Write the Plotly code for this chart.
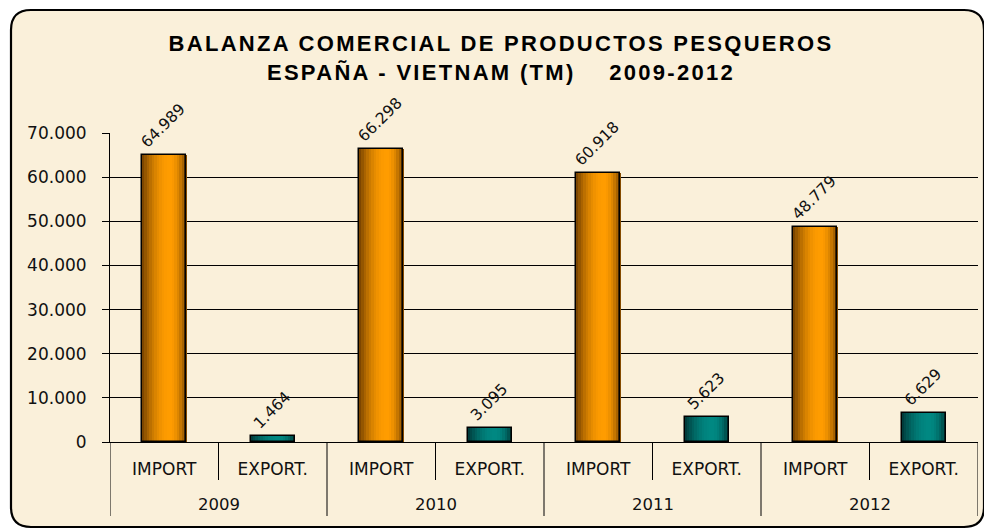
import plotly.graph_objects as go

# ---- data ----
years = ["2009", "2010", "2011", "2012"]
flows = ["IMPORT", "EXPORT."]
import_tm = [64989, 66298, 60918, 48779]
export_tm = [1464, 3095, 5623, 6629]
y_ticks = [0, 10000, 20000, 30000, 40000, 50000, 60000, 70000]

# build flat category arrays
labels, vals, kinds = [], [], []
for i, yr in enumerate(years):
    for f, v in zip(flows, [import_tm[i], export_tm[i]]):
        labels.append(f)
        vals.append(v)
        kinds.append(f)
pos = list(range(len(vals)))

FONT = "DejaVu Sans"
BG = "#FAF0DA"

ORANGE_DARK, ORANGE_BRIGHT = (112, 62, 0), (255, 156, 0)
TEAL_DARK, TEAL_BRIGHT = (0, 52, 52), (0, 136, 130)


def mix(a, b, t):
    return "rgb(%d,%d,%d)" % tuple(round(a[j] + (b[j] - a[j]) * t) for j in range(3))


def shade(t):
    peak = 0.62
    d = (peak - t) / peak if t < peak else (t - peak) / (1 - peak)
    return max(0.0, 1 - d ** 2)


fig = go.Figure()
W = 0.41
N = 18
for k in range(N):
    s = shade((k + 0.5) / N)
    colors = [mix(ORANGE_DARK, ORANGE_BRIGHT, s) if kd == "IMPORT" else mix(TEAL_DARK, TEAL_BRIGHT, s)
              for kd in kinds]
    fig.add_trace(go.Bar(
        x=pos, y=vals,
        width=W / N * 1.03, offset=-W / 2 + k * W / N,
        marker=dict(color=colors, line=dict(width=0)),
        hoverinfo="skip", showlegend=False,
    ))

# outline + value labels
fig.add_trace(go.Bar(
    x=pos, y=vals, width=W, offset=-W / 2,
    marker=dict(color="rgba(0,0,0,0)", line=dict(color="#000000", width=1.5)),
    texttemplate="%{y:,.0f}", textposition="outside", textangle=-45,
    textfont=dict(family=FONT, size=15.5, color="#111111"),
    cliponaxis=False, constraintext="none", showlegend=False,
))

# geometry helpers (paper coords of the plot area)
PW, PH = 868.0, 309.0
def px(xpix):
    return (xpix - 110) / PW
def py(ypix):
    return (442 - ypix) / PH

L, R, T, B, rad = 11, 984, 10, 527, 20
rx, ry = rad / PW, rad / PH
path = (f"M {px(L)+rx} {py(T)} L {px(R)-rx} {py(T)} Q {px(R)} {py(T)} {px(R)} {py(T)-ry} "
        f"L {px(R)} {py(B)+ry} Q {px(R)} {py(B)} {px(R)-rx} {py(B)} "
        f"L {px(L)+rx} {py(B)} Q {px(L)} {py(B)} {px(L)} {py(B)+ry} "
        f"L {px(L)} {py(T)-ry} Q {px(L)} {py(T)} {px(L)+rx} {py(T)} Z")
shapes = [dict(type="path", path=path, xref="paper", yref="paper",
               fillcolor=BG, line=dict(color="#000000", width=2.2), layer="below")]

# category boundary lines: short between flows, long between years
for j in range(len(years)):
    xin = 2 * j + 0.5
    shapes.append(dict(type="line", xref="x", yref="paper", x0=xin, x1=xin,
                       y0=0, y1=py(480), line=dict(color="#000000", width=1)))
for j in range(len(years) + 1):
    xo = 2 * j - 0.5
    shapes.append(dict(type="line", xref="x", yref="paper", x0=xo, x1=xo,
                       y0=0, y1=py(516), line=dict(color="#000000", width=1)))

annotations = []
for j, yr in enumerate(years):
    annotations.append(dict(text=yr, x=2 * j + 0.5, xref="x", y=py(504), yref="paper",
                            xanchor="center", yanchor="middle", showarrow=False,
                            font=dict(family=FONT, size=16.5, color="#111111")))

title_txt = ('<span style="letter-spacing:2.3px">BALANZA COMERCIAL DE PRODUCTOS PESQUEROS</span><br>'
             '<span style="letter-spacing:2.3px">ESPAÑA - VIETNAM (TM)    2009-2012</span>')

fig.update_layout(
    width=984, height=529,
    margin=dict(l=110, r=6, t=133, b=87),
    paper_bgcolor="#FFFFFF", plot_bgcolor="rgba(0,0,0,0)",
    barmode="overlay", bargap=0,
    separators=",.",
    shapes=shapes,
    annotations=annotations,
    title=dict(
        text=title_txt,
        font=dict(family="Liberation Sans", size=22, color="#000000", weight="bold"),
        x=501 / 984, xanchor="center", xref="container",
        y=1 - 51 / 529, yanchor="top", yref="container",
    ),
    font=dict(family=FONT, size=16, color="#111111"),
)

fig.update_xaxes(
    range=[-0.5, len(vals) - 0.5], tickvals=pos, ticktext=labels,
    showline=True, linecolor="#000000", linewidth=1,
    ticks="", showgrid=False, zeroline=False,
    ticklabelstandoff=12,
    tickfont=dict(family=FONT, size=17, color="#111111"),
)
fig.update_yaxes(
    range=[0, 70000], tickvals=y_ticks, tickformat=",.0f",
    showgrid=True, gridcolor="#000000", gridwidth=1,
    showline=True, linecolor="#000000", linewidth=1,
    ticks="outside", ticklen=7, tickcolor="#000000",
    ticklabelstandoff=12,
    zeroline=False,
    tickfont=dict(family=FONT, size=17, color="#111111"),
)

fig.write_html("out.html", config={"displayModeBar": False},
               post_script="document.body.style.margin='0';document.body.style.padding='0';")
